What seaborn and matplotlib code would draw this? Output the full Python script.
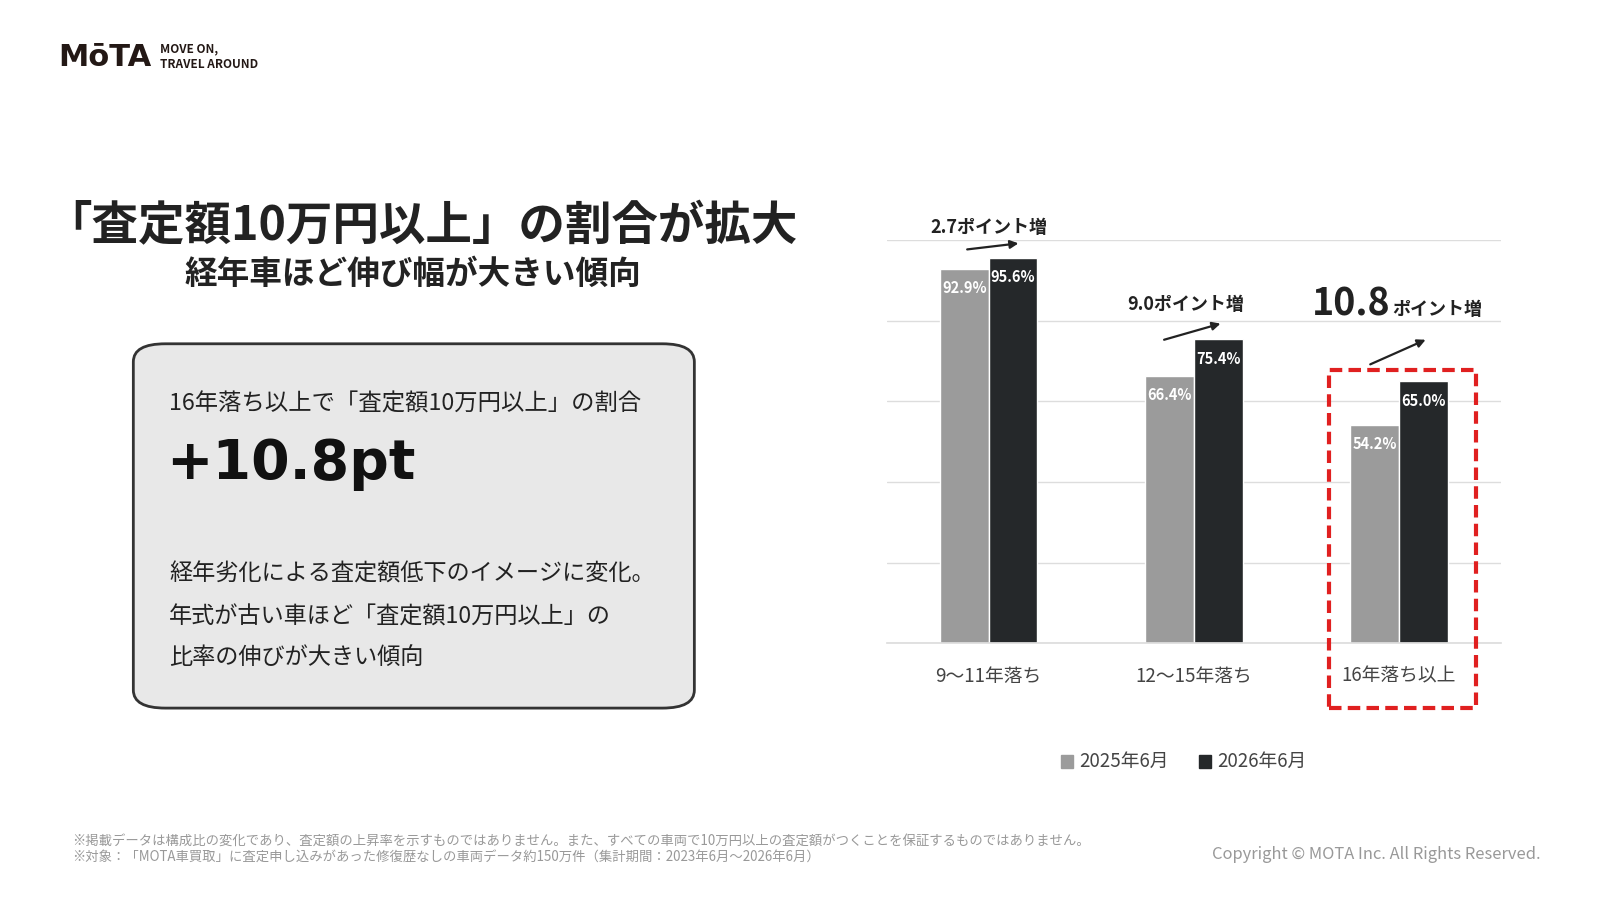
import matplotlib
matplotlib.use("Agg")
import matplotlib.pyplot as plt
import seaborn as sns
import pandas as pd
from matplotlib.patches import FancyBboxPatch, Rectangle

categories = ["9〜11年落ち", "12〜15年落ち", "16年落ち以上"]
series_names = ["2025年6月", "2026年6月"]
values_2025 = [92.9, 66.4, 54.2]
values_2026 = [95.6, 75.4, 65.0]
colors = ["#9b9b9b", "#25282a"]

sns.set_theme(style="white")
plt.rcParams['font.family'] = ['Noto Sans CJK JP', 'DejaVu Sans']

W, H = 1560, 877
def X(p): return p / W
def Y(p): return 1 - p / H

fig = plt.figure(figsize=(16, 9), dpi=100)
fig.patch.set_facecolor("white")

df = pd.DataFrame({
    "cat": categories * 2,
    "series": [series_names[0]] * 3 + [series_names[1]] * 3,
    "val": values_2025 + values_2026,
})

ax = fig.add_axes([X(865), Y(627), X(1463) - X(865), Y(234) - Y(627)])
sns.barplot(data=df, x="cat", y="val", hue="series", palette=colors, ax=ax,
            width=0.475, saturation=1, legend=False)
ax.set_ylim(0, 100)
ax.set_xlim(-0.495, 2.495)
ax.set_yticks([0, 20, 40, 60, 80, 100])
ax.yaxis.grid(True, color="#dddddd", lw=1)
ax.set_axisbelow(True)
ax.tick_params(axis="y", left=False, labelleft=False)
ax.tick_params(axis="x", length=0, pad=16, labelsize=13.5, labelcolor="#444444")
ax.set_xlabel(""); ax.set_ylabel("")
for s in ["top", "right", "left"]:
    ax.spines[s].set_visible(False)
ax.spines["bottom"].set_color("#dddddd")

bw = 0.475 / 2
for i in range(3):
    for j, vals in enumerate([values_2025, values_2026]):
        xc = i - bw / 2 + j * bw
        ax.text(xc, vals[i] - 2.8, f"{vals[i]:.1f}%", ha="center", va="top",
                color="white", fontsize=10.5, fontweight="bold")

arrows = [((-0.105, 97.7), (0.145, 99.2)),
          ((0.855, 75.3), (1.13, 79.3)),
          ((1.86, 69.2), (2.13, 75.3))]
for (x0, y0), (x1, y1) in arrows:
    ax.annotate("", xy=(x1, y1), xytext=(x0, y0),
                arrowprops=dict(arrowstyle="-|>", color="#222222", lw=1.6,
                                mutation_scale=12, shrinkA=0, shrinkB=0),
                annotation_clip=False)

fig.text(X(964), Y(222), "2.7ポイント増", ha="center", va="center",
         fontsize=13, fontweight="bold", color="#222222")
fig.text(X(1156), Y(297), "9.0ポイント増", ha="center", va="center",
         fontsize=13, fontweight="bold", color="#222222")
fig.text(X(1356), Y(307), "10.8", ha="right", va="baseline",
         fontsize=27, fontweight="bold", color="#222222")
fig.text(X(1357), Y(307), "ポイント増", ha="left", va="baseline",
         fontsize=13, fontweight="bold", color="#222222")

fig.patches.append(Rectangle((X(1296), Y(690)), X(1439) - X(1296), Y(361) - Y(690),
                             transform=fig.transFigure, fill=False,
                             edgecolor="#e02020", lw=3, ls=(0, (3, 1.5))))

for xs, name, c in [(1034, series_names[0], colors[0]), (1169, series_names[1], colors[1])]:
    fig.patches.append(Rectangle((X(xs), Y(748)), X(12), 12 / H,
                                 transform=fig.transFigure, color=c))
    fig.text(X(xs + 18), Y(742), name, ha="left", va="center", fontsize=13.5, color="#444444")

fig.text(X(44), Y(220), "「査定額10万円以上」の割合が拡大", ha="left", va="center",
         fontsize=33.5, fontweight="bold", color="#222222")
fig.text(X(403), Y(267), "経年車ほど伸び幅が大きい傾向", ha="center", va="center",
         fontsize=23.5, fontweight="bold", color="#222222")
fig.patches.append(FancyBboxPatch((X(130), Y(690)), X(677) - X(130), Y(335) - Y(690),
                                  boxstyle="round,pad=0,rounding_size=0.02",
                                  transform=fig.transFigure, facecolor="#e8e8e8",
                                  edgecolor="#333333", lw=2))
fig.text(X(165), Y(394), "16年落ち以上で「査定額10万円以上」の割合", ha="left", va="center",
         fontsize=16.8, color="#222222")
fig.text(X(162), Y(452), "+10.8pt", ha="left", va="center",
         fontsize=40, fontweight="bold", color="#111111", family=["DejaVu Sans"])
for yy, t in [(559, "経年劣化による査定額低下のイメージに変化。"),
              (601, "年式が古い車ほど「査定額10万円以上」の"),
              (641, "比率の伸びが大きい傾向")]:
    fig.text(X(165), Y(yy), t, ha="left", va="center", fontsize=16.7, color="#222222")

fig.text(X(57), Y(56), "MōTA", ha="left", va="center", fontsize=22,
         fontweight="bold", color="#231815", family=["DejaVu Sans"])
fig.text(X(156), Y(48), "MOVE ON,", ha="left", va="center", fontsize=8.5,
         fontweight="bold", color="#231815")
fig.text(X(156), Y(63), "TRAVEL AROUND", ha="left", va="center", fontsize=8.5,
         fontweight="bold", color="#231815")

fig.text(X(70), Y(819), "※掲載データは構成比の変化であり、査定額の上昇率を示すものではありません。また、すべての車両で10万円以上の査定額がつくことを保証するものではありません。",
         ha="left", va="center", fontsize=9.6, color="#999999")
fig.text(X(70), Y(835), "※対象：「MOTA車買取」に査定申し込みがあった修復歴なしの車両データ約150万件（集計期間：2023年6月〜2026年6月）",
         ha="left", va="center", fontsize=9.6, color="#999999")
fig.text(X(1502), Y(833), "Copyright © MOTA Inc. All Rights Reserved.", ha="right",
         va="center", fontsize=11.9, color="#999999")

fig.savefig("out.png", dpi=100, facecolor="white")
